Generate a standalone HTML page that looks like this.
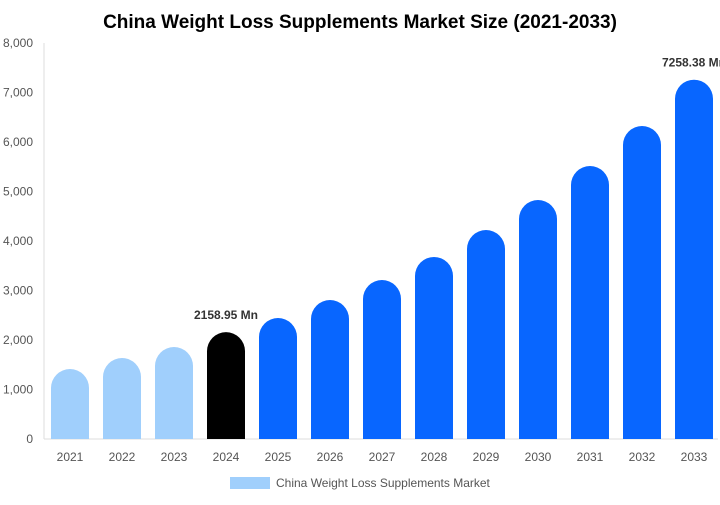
<!DOCTYPE html>
<html><head><meta charset="utf-8"><style>
body{margin:0;background:#fff;width:720px;height:500px;overflow:hidden;font-family:"Liberation Sans",sans-serif}
</style></head><body>
<svg id="c" width="720" height="500">
<text x="360" y="28" text-anchor="middle" font-size="19" font-weight="bold" fill="#000">China Weight Loss Supplements Market Size (2021-2033)</text>
<g id="axes"></g><g id="bars"></g>
<g>
<rect x="230" y="477" width="40" height="12" fill="#a0cffc"></rect>
<text x="276" y="487" font-size="12" fill="#555">China Weight Loss Supplements Market</text>
</g>
</svg>
<script>
const categories=["2021","2022","2023","2024","2025","2026","2027","2028","2029","2030","2031","2032","2033"];
const values=[1414,1636,1858,2158.95,2444,2808,3212,3677,4222,4828,5515,6323,7258.38];
const yTicks=[0,1000,2000,3000,4000,5000,6000,7000,8000];
const labelled=[3,12];
const NS="http://www.w3.org/2000/svg";
const x0=44,x1=718,yb=439,yt=43,ymax=8000;
const y=v=>yb-(v/ymax)*(yb-yt);
const step=52;
const xc=i=>70+step*i;
function mk(t,a,p){const e=document.createElementNS(NS,t);for(const k in a)e.setAttribute(k,a[k]);p.appendChild(e);return e;}
const ax=document.getElementById('axes'),bg=document.getElementById('bars');
let l=mk('line',{x1:x0,x2:x0,y1:yt,y2:yb,stroke:'#ddd'},ax);


l=mk('line',{x1:x0,x2:x1,y1:yb,y2:yb,stroke:'#ddd'},ax);


yTicks.forEach(v=>{const t=mk('text',{x:33,y:y(v)+4,'text-anchor':'end','font-size':12,fill:'#555'},ax);t.textContent=v.toLocaleString('en-US');

});
const w=38,r=19;
categories.forEach((c,i)=>{
const v=values[i],cx=xc(i),top=y(v),xl=cx-w/2;
const col=i<3?'#a0cffc':(i==3?'#000':'#0866ff');
const p=mk('path',{d:`M${xl},${yb}V${top+r}A${r},${r} 0 0 1 ${xl+w},${top+r}V${yb}Z`,fill:col},bg);


const t=mk('text',{x:cx,y:yb+22,'text-anchor':'middle','font-size':12,fill:'#555'},ax);t.textContent=c;


if(labelled.includes(i)){const lb=mk('text',{x:cx,y:top-13,'text-anchor':'middle','font-size':12,'font-weight':'bold',fill:'#333'},bg);lb.textContent=v.toFixed(2)+' Mn';

}
});
</script>
</body></html>
